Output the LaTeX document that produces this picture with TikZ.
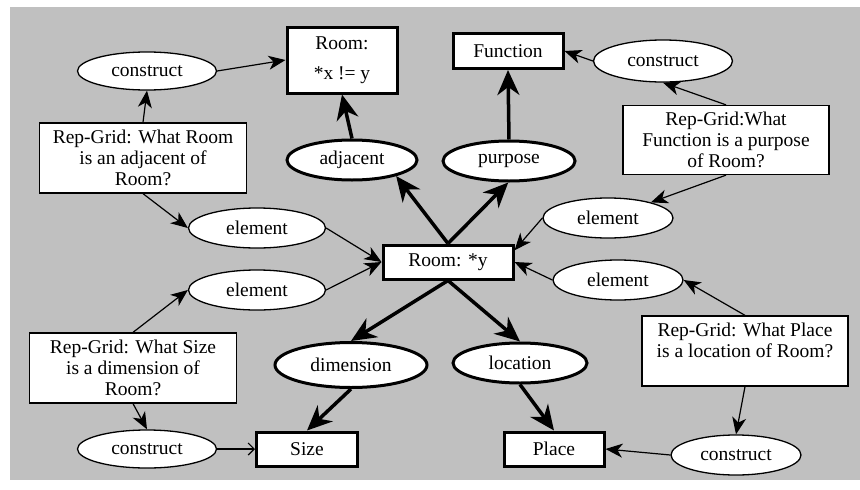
\documentclass[tikz,border=0pt]{standalone}
\usepackage{fontspec}
\setmainfont{Liberation Serif}
\usetikzlibrary{shapes.geometric,arrows.meta}
\definecolor{bggray}{RGB}{192,192,192}
\tikzset{
  thinell/.style={ellipse,draw,fill=white,line width=1.3pt,inner sep=0pt},
  thickell/.style={ellipse,draw,fill=white,line width=3pt,inner sep=0pt},
  thickbox/.style={rectangle,draw,fill=white,line width=3pt,inner sep=0pt,align=center},
  rgbox/.style={rectangle,draw,fill=white,line width=1.3pt,inner sep=0pt,align=center},
  thinarr/.style={line width=1.2pt,-{Stealth[length=17pt,width=14pt,inset=5pt]}},
  thickarr/.style={line width=3.5pt,-{Stealth[length=25pt,width=22pt,inset=8pt]}},
  openarr/.style={line width=1.2pt,-{Straight Barb[length=6pt,width=12pt]}}
}
\begin{document}
\begin{tikzpicture}[x=1pt,y=-1pt,font=\fontsize{19.5}{21}\selectfont]
\useasboundingbox (0,0) rectangle (860,490);
\fill[bggray] (10,7) rectangle (860,480);

\node[thickbox,minimum width=110pt,minimum height=66pt] (roomx) at (342,60) {Room:\\[9pt]*x != y};
\node[thickbox,minimum width=110pt,minimum height=35pt] (func) at (508,51) {Function};
\node[thinell,minimum width=139pt,minimum height=38pt] (conTL) at (147,71) {construct};
\node[rgbox,minimum width=207pt,minimum height=70pt] (rgTL) at (143,158) {Rep-Grid: What Room\\is an adjacent of\\Room?};
\node[thickell,minimum width=130pt,minimum height=40pt] (adj) at (352,160) {adjacent};
\node[thickell,minimum width=132pt,minimum height=40pt] (purp) at (509,161) {purpose};
\node[thinell,minimum width=139pt,minimum height=42pt] (conTR) at (663,61) {construct};
\node[rgbox,minimum width=206pt,minimum height=69pt] (rgTR) at (726,140) {Rep-Grid:What\\Function is a purpose\\of Room?};
\node[thinell,minimum width=137pt,minimum height=40pt] (elUL) at (257,228) {element};
\node[thinell,minimum width=130pt,minimum height=40pt] (elRU) at (608,218) {element};
\node[thickbox,minimum width=130pt,minimum height=34pt] (roomy) at (448,262) {Room: *y};
\node[thinell,minimum width=137pt,minimum height=40pt] (elLL) at (257,290) {element};
\node[thinell,minimum width=130pt,minimum height=40pt] (elRL) at (618,280) {element};
\node[rgbox,minimum width=207pt,minimum height=70pt] (rgBL) at (133,368) {Rep-Grid: What Size\\is a dimension of\\Room?};
\node[thickell,minimum width=152pt,minimum height=45pt] (dim) at (351,365) {dimension};
\node[thickell,minimum width=134pt,minimum height=40pt] (loc) at (520,363) {location};
\node[rgbox,minimum width=206pt,minimum height=70pt] (rgBR) at (745,351) {Rep-Grid: What Place\\is a location of Room?\\\mbox{}};
\node[thinell,minimum width=139pt,minimum height=38pt] (conBL) at (147,449) {construct};
\node[thickbox,minimum width=101pt,minimum height=34pt] (size) at (307,449) {Size};
\node[thickbox,minimum width=100pt,minimum height=34pt] (place) at (554,449) {Place};
\node[thinell,minimum width=130pt,minimum height=40pt] (conBR) at (736,455) {construct};

% thick connectors
\draw[thickarr] (roomy.north) -- (adj.-20);
\draw[thickarr] (roomy.north) -- (purp.-92);
\draw[thickarr] (roomy.south) -- (dim.north);
\draw[thickarr] (roomy.south) -- (loc.north);
\draw[thickarr] (dim.south) -- (size.north);
\draw[thickarr] (loc.south) -- (place.north);
\draw[thickarr] (adj.north) -- (roomx.south);
\draw[thickarr] (purp.north) -- (func.south);

% thin connectors
\draw[thinarr] (rgTL.north) -- (conTL.south);
\draw[thinarr] (conTL.east) -- (roomx.west);
\draw[thinarr] (rgTL.south) -- (elUL.west);
\draw[thinarr] (elUL.east) -- (roomy.west);
\draw[thinarr] (elLL.east) -- (roomy.west);
\draw[thinarr] (rgBL.north) -- (elLL.west);
\draw[thinarr] (rgBL.south) -- (conBL.north);
\draw[openarr] (conBL.east) -- (size.west);
\draw[thinarr] (conTR.west) -- (func.east);
\draw[thinarr] (rgTR.north) -- (conTR.south);
\draw[thinarr] (rgTR.south) -- (elRU.20);
\draw[thinarr] (elRU.west) -- (roomy.10);
\draw[thinarr] (elRL.west) -- (roomy.east);
\draw[thinarr] (rgBR.north) -- (elRL.east);
\draw[thinarr] (rgBR.south) -- (conBR.north);
\draw[thinarr] (conBR.west) -- (place.east);
\end{tikzpicture}
\end{document}
